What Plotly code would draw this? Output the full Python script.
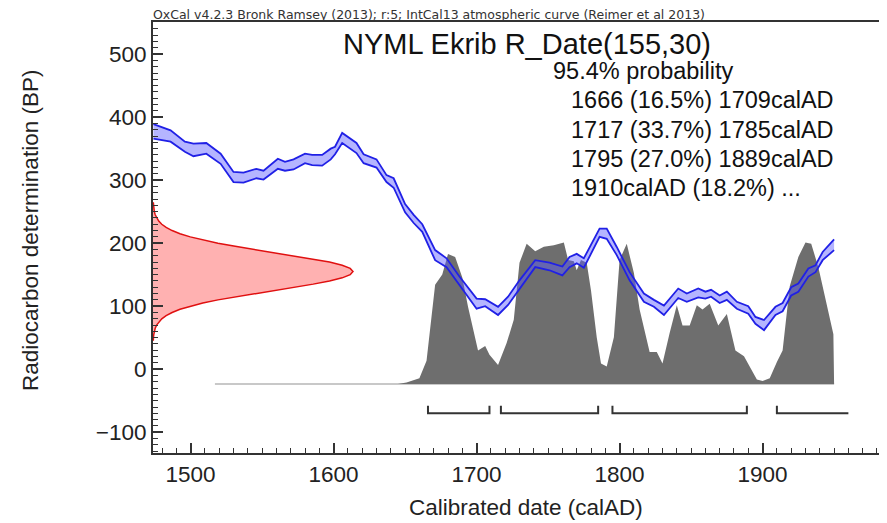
import plotly.graph_objects as go

# ---------------- data ----------------
# IntCal13 calibration curve band (calAD, upper BP, lower BP)
curve_year = [1474, 1486, 1496, 1502, 1511, 1521, 1530, 1537, 1546, 1551, 1561, 1566, 1572,
              1580, 1585, 1592, 1598, 1601, 1606, 1616, 1621, 1630, 1637, 1642, 1650, 1656,
              1662, 1671, 1679, 1688, 1700, 1706, 1715, 1722, 1730, 1741, 1751, 1760, 1765,
              1770, 1775, 1786, 1791, 1798, 1807, 1817, 1824, 1831, 1841, 1847, 1855, 1860,
              1864, 1870, 1875, 1882, 1890, 1895, 1901, 1909, 1914, 1920, 1925, 1932, 1937,
              1942, 1950]
curve_upper = [389, 379, 361, 358, 359, 342, 313, 312, 318, 315, 334, 329, 333,
               342, 340, 340, 350, 353, 375, 359, 341, 333, 308, 303, 262, 245,
               230, 189, 176, 147, 112, 111, 99, 115, 141, 173, 169, 163, 178,
               183, 176, 223, 223, 194, 154, 120, 110, 101, 128, 120, 128, 123,
               126, 117, 123, 107, 100, 83, 78, 99, 105, 130, 136, 160, 165,
               186, 206]
curve_lower = [366, 361, 345, 338, 342, 326, 297, 296, 303, 301, 318, 315, 317,
               327, 324, 323, 333, 341, 359, 343, 327, 320, 297, 288, 249, 232,
               218, 173, 162, 133, 96, 100, 86, 102, 128, 162, 157, 149, 162,
               168, 161, 210, 207, 181, 141, 107, 99, 86, 113, 107, 114, 112,
               115, 105, 110, 96, 88, 72, 62, 86, 92, 117, 123, 147, 154,
               173, 189]

# Radiocarbon measurement R_Date(155,30): relative probability at BP levels
meas_bp = [265, 260, 255, 250, 245, 240, 235, 230, 225, 220, 215, 210, 205, 200, 195, 190,
           185, 180, 175, 170, 165, 160, 155, 150, 145, 140, 135, 130, 125, 120, 115, 110,
           105, 100, 95, 90, 85, 80, 75, 70, 65, 60, 55, 50, 45]
meas_prob = [0.0015, 0.0022, 0.0039, 0.0066, 0.0111, 0.0180, 0.0286, 0.0439, 0.0657, 0.0956,
             0.135, 0.1864, 0.249, 0.3247, 0.411, 0.5063, 0.607, 0.7066, 0.801, 0.8825,
             0.946, 0.986, 1.0, 0.986, 0.946, 0.8825, 0.801, 0.7066, 0.607, 0.5063, 0.411,
             0.3247, 0.249, 0.1864, 0.135, 0.0956, 0.0657, 0.0439, 0.0286, 0.0180, 0.0111,
             0.0066, 0.0039, 0.0022, 0.0015]

# Calibrated (posterior) distribution: calAD and relative probability
dist_year = [1517, 1600, 1645, 1651, 1660, 1665, 1671, 1676, 1680, 1685, 1690, 1694, 1698,
             1701, 1706, 1709, 1715, 1721, 1726, 1730, 1735, 1741, 1747, 1754, 1761, 1764,
             1768, 1770, 1773, 1777, 1780, 1784, 1787, 1791, 1796, 1800, 1805, 1810, 1814,
             1819, 1821, 1826, 1830, 1835, 1840, 1844, 1849, 1854, 1858, 1863, 1869, 1875,
             1881, 1887, 1891, 1896, 1900, 1905, 1910, 1914, 1919, 1925, 1930, 1934, 1939,
             1945, 1949.5, 1950]
dist_prob = [0, 0, 0, 0.01, 0.04, 0.16, 0.68, 0.75, 0.89, 0.87, 0.73, 0.53, 0.37,
             0.23, 0.26, 0.20, 0.13, 0.28, 0.44, 0.83, 0.96, 0.91, 0.94, 0.95, 0.97, 0.85,
             0.84, 0.78, 0.85, 0.83, 0.64, 0.32, 0.14, 0.12, 0.32, 0.85, 0.96, 0.76, 0.51,
             0.30, 0.22, 0.22, 0.14, 0.35, 0.54, 0.40, 0.40, 0.54, 0.51, 0.55, 0.40, 0.48,
             0.23, 0.19, 0.12, 0.03, 0.02, 0.04, 0.15, 0.23, 0.67, 0.87, 0.97, 0.96, 0.80,
             0.53, 0.34, 0]

# 95.4% ranges (the last one is open-ended, drawn to ~1960)
range_start = [1666, 1717, 1795, 1910]
range_end = [1709, 1785, 1889, 1960]

header = "OxCal v4.2.3 Bronk Ramsey (2013); r:5; IntCal13 atmospheric curve (Reimer et al 2013)"
title = "NYML Ekrib R_Date(155,30)"
prob_lines = ["95.4% probability",
              "1666 (16.5%) 1709calAD",
              "1717 (33.7%) 1785calAD",
              "1795 (27.0%) 1889calAD",
              "1910calAD (18.2%) ..."]

# ---------------- styling ----------------
FONT = "Liberation Sans, Arial, sans-serif"
PAGE_OFF = 8                      # default body margin of the html page
W, H = 887 - PAGE_OFF, 523 - PAGE_OFF
L, T, B, R = 153 - PAGE_OFF, 22 - PAGE_OFF, 70, 0
PW, PH = W - L - R, H - T - B
BRACKET_Y, BRACKET_TICK = -70, -58

def px_to_paper_y(py):            # py in page pixels
    return (523 - B - py) / PH

def px_to_paper_x(px):            # px in page pixels
    return (px - 153) / PW

fig = go.Figure()

# posterior distribution (hidden base axis y2)
fig.add_trace(go.Scatter(x=[dist_year[0], dist_year[-1]], y=[0, 0], yaxis="y2",
                         mode="lines", line=dict(color="#c8c8c8", width=2),
                         hoverinfo="skip", showlegend=False))
fig.add_trace(go.Scatter(x=dist_year, y=dist_prob, yaxis="y2", mode="lines",
                         line=dict(width=0, color="#6e6e6e"), fill="tozeroy",
                         fillcolor="#6e6e6e", showlegend=False))

# range brackets
for s, e in zip(range_start, range_end):
    last = e == range_end[-1]
    xs = [s, s, e] if last else [s, s, e, e]
    ys = [BRACKET_TICK, BRACKET_Y, BRACKET_Y] if last else [BRACKET_TICK, BRACKET_Y, BRACKET_Y, BRACKET_TICK]
    fig.add_trace(go.Scatter(x=xs, y=ys, mode="lines", line=dict(color="#333333", width=2),
                             showlegend=False, hoverinfo="skip"))

# measurement distribution on y-axis (overlay x2)
fig.add_trace(go.Scatter(x=meas_prob, y=meas_bp, xaxis="x2", mode="lines",
                         line=dict(color="#e01010", width=1.5), fill="tozerox",
                         fillcolor="rgba(255,60,60,0.4)", showlegend=False))

# calibration curve band
fig.add_trace(go.Scatter(x=curve_year, y=curve_lower, mode="lines",
                         line=dict(color="#2020e6", width=1.8), showlegend=False))
fig.add_trace(go.Scatter(x=curve_year, y=curve_upper, mode="lines",
                         line=dict(color="#2020e6", width=1.8), fill="tonexty",
                         fillcolor="rgba(90,90,255,0.45)", showlegend=False))

axis_common = dict(showgrid=False, zeroline=False, showline=True, linecolor="#333333",
                   linewidth=2, ticks="inside", ticklen=10, tickwidth=1.5, tickcolor="#333333",
                   tickfont=dict(family=FONT, size=22.5, color="#222222"))

fig.update_layout(
    width=W, height=H,
    margin=dict(l=L, r=R, t=T, b=B),
    plot_bgcolor="white", paper_bgcolor="white",
    font=dict(family=FONT, color="#222222"),
    xaxis=dict(range=[1473.7, 1987], tick0=1500, dtick=100, mirror=True,
               minor=dict(dtick=10, ticks="inside", ticklen=5, tickcolor="#333333", tickwidth=1.2),
               **axis_common),
    yaxis=dict(range=[-133, 551], tick0=0, dtick=100, overlaying="y2",
               minor=dict(dtick=10, ticks="inside", ticklen=5, tickcolor="#333333", tickwidth=1.2),
               **axis_common),
    yaxis2=dict(range=[-0.4727, 2.4798], visible=False, showgrid=False, zeroline=False),
    xaxis2=dict(range=[0, 3.67], overlaying="x", visible=False, showgrid=False, zeroline=False),
    showlegend=False,
)

ann = []
ann.append(dict(text=header, xref="paper", yref="paper", x=px_to_paper_x(152), y=1,
                xanchor="left", yanchor="bottom", showarrow=False, yshift=-1.5, borderpad=0,
                font=dict(family="DejaVu Sans, sans-serif", size=12.5, color="#333333")))
ann.append(dict(text=title, xref="paper", yref="paper", x=px_to_paper_x(527),
                y=px_to_paper_y(44), xanchor="center", yanchor="middle", showarrow=False,
                font=dict(family=FONT, size=29, color="#111111")))
line_y = [71, 100, 130, 159, 188]
line_x = [551, 569, 569, 569, 569]
for txt, px, py in zip(prob_lines, line_x, line_y):
    ann.append(dict(text=txt, xref="paper", yref="paper", x=px_to_paper_x(px),
                    y=px_to_paper_y(py), xanchor="left", yanchor="middle", showarrow=False,
                    font=dict(family=FONT, size=23.5, color="#111111")))
ann.append(dict(text="Radiocarbon determination (BP)", xref="paper", yref="paper",
                x=px_to_paper_x(30), y=px_to_paper_y(231), xanchor="center", yanchor="middle",
                textangle=-90, showarrow=False, font=dict(family=FONT, size=22.5, color="#222222")))
ann.append(dict(text="Calibrated date (calAD)", xref="paper", yref="paper",
                x=px_to_paper_x(526), y=px_to_paper_y(508), xanchor="center", yanchor="middle",
                showarrow=False, font=dict(family=FONT, size=22.5, color="#222222")))
fig.update_layout(annotations=ann)

fig.write_html("out.html")
